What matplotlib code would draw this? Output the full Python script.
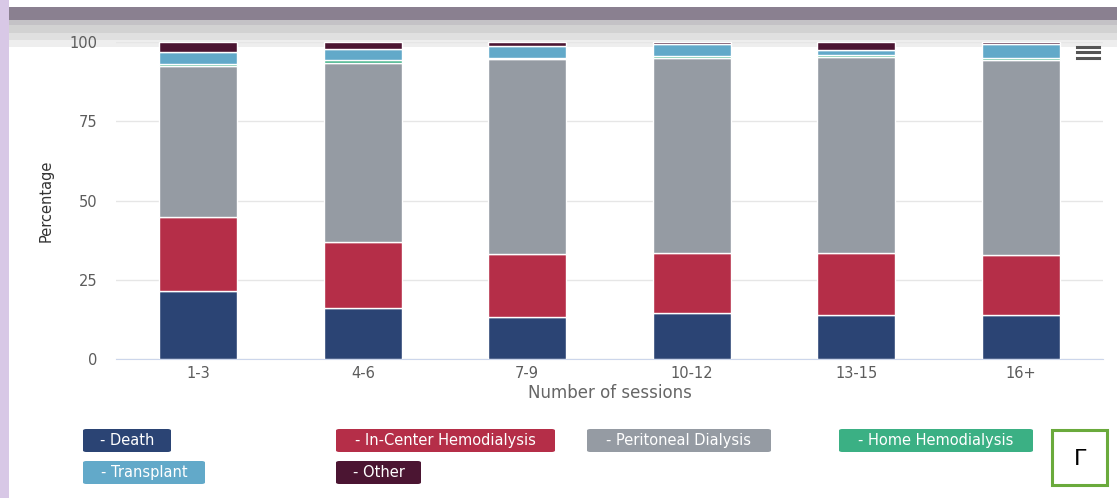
import numpy as np
import matplotlib.pyplot as plt
from matplotlib.patches import Rectangle, FancyBboxPatch
from matplotlib.lines import Line2D

plt.rcParams['font.family'] = ['DejaVu Sans']

sessions = ['1-3', '4-6', '7-9', '10-12', '13-15', '16+']

death = [21.5, 16.1, 13.2, 14.5, 13.9, 13.9]
in_center_hd = [23.3, 20.8, 19.9, 19.0, 19.6, 18.9]
peritoneal = [47.6, 56.5, 61.4, 61.3, 61.8, 61.6]
home_hd = [0.6, 0.8, 0.6, 0.7, 0.6, 0.6]
transplant = [3.7, 3.7, 3.6, 3.8, 1.7, 4.3]
other = [3.3, 2.1, 1.3, 0.7, 2.4, 0.7]

series = [
    ('Death', death, '#2b4474'),
    ('In-Center Hemodialysis', in_center_hd, '#b52e48'),
    ('Peritoneal Dialysis', peritoneal, '#959ba3'),
    ('Home Hemodialysis', home_hd, '#3bb084'),
    ('Transplant', transplant, '#62a9c9'),
    ('Other', other, '#4b1532'),
]

W, H = 1117, 498
fig = plt.figure(figsize=(W / 100, H / 100), dpi=100)


def px_rect(x0, y0, x1, y1, **kw):
    # rectangle given in pixel coords (origin top-left)
    return Rectangle((x0 / W, 1 - y1 / H), (x1 - x0) / W, (y1 - y0) / H,
                     transform=fig.transFigure, **kw)


# screenshot frame: lavender strip on the left, grey bands on top
fig.patches.append(px_rect(0, 0, 9, H, facecolor='#d8c8e6', edgecolor='none', zorder=-5))
for y0, y1, c in [(7, 20, '#8a8090'), (20, 25, '#c4c2c6'), (25, 33, '#d2d2d2'),
                  (33, 40, '#e0e0e0'), (40, 47, '#eeeeee')]:
    fig.patches.append(px_rect(9, y0, W, y1, facecolor=c, edgecolor='none', zorder=-5))

ax = fig.add_axes([116 / W, 1 - 359 / H, (1103 - 116) / W, (359 - 42) / H])
ax.set_zorder(2)
ax.patch.set_alpha(0)

x = np.arange(len(sessions))
bottom = np.zeros(len(sessions))
for name, vals, color in series:
    ax.bar(x, vals, width=0.475, bottom=bottom, color=color,
           edgecolor='white', linewidth=1, zorder=3)
    bottom += np.array(vals)

ax.set_xlim(-0.5, len(sessions) - 0.5)
ax.set_ylim(0, 100)
ax.set_yticks([0, 25, 50, 75, 100])
ax.set_xticks(x)
ax.set_xticklabels(sessions)
ax.grid(axis='y', color='#e6e6e6', linewidth=1, zorder=0)
ax.tick_params(axis='both', length=0, labelsize=10.5, labelcolor='#5c5c5c')
ax.tick_params(axis='y', pad=13.5)
ax.tick_params(axis='x', pad=5)
for s in ['top', 'right', 'left']:
    ax.spines[s].set_visible(False)
ax.spines['bottom'].set_color('#ccd6eb')
ax.set_ylabel('Percentage', fontsize=10.5, color='#333333', labelpad=11)
ax.set_xlabel('Number of sessions', fontsize=12, color='#666666', labelpad=2)

# export menu icon
for yy in [47, 52, 58]:
    fig.lines.append(Line2D([1077 / W, 1099 / W], [1 - yy / H] * 2,
                            transform=fig.transFigure, color='#555555', linewidth=2.2))

# legend as coloured buttons
legend_boxes = [
    (83, 429, 171, 452), (336, 429, 555, 452), (587, 429, 771, 452),
    (839, 429, 1033, 452), (83, 461, 205, 484), (336, 461, 421, 484),
]
for (name, _, color), (x0, y0, x1, y1) in zip(series, legend_boxes):
    fig.patches.append(FancyBboxPatch((x0 / W, 1 - y1 / H), (x1 - x0) / W, (y1 - y0) / H,
                                      boxstyle='round,pad=0,rounding_size=0.003',
                                      transform=fig.transFigure, facecolor=color,
                                      edgecolor='none'))
    fig.text((x0 + x1) / 2 / W, 1 - (y0 + y1) / 2 / H, '- ' + name, color='white',
             fontsize=10.5, ha='center', va='center')

# panel marker box
fig.patches.append(px_rect(1052, 430, 1107, 485, facecolor='white',
                           edgecolor='#6aaa3c', linewidth=2.2))
fig.text(1080 / W, 1 - 459 / H, 'Γ', fontsize=16, ha='center', va='center', color='black')

fig.savefig('out.png', dpi=100)
